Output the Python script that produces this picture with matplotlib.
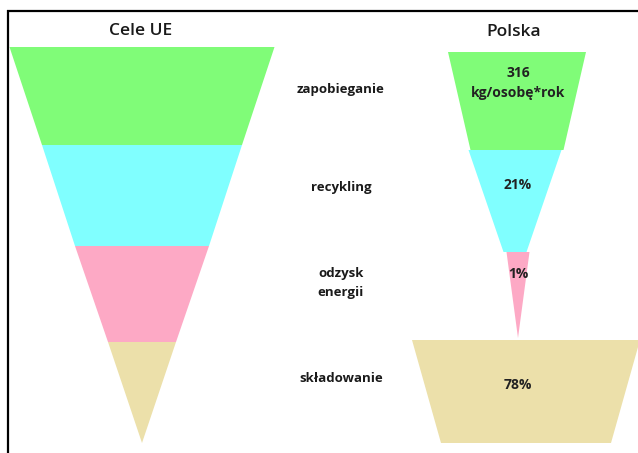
import numpy as np
import matplotlib.pyplot as plt

# categories (middle column) and the values shown in the Polish funnel
categories = ["zapobieganie", "recykling", "odzysk\nenergii", "składowanie"]
pl_labels = ["316\nkg/osobę*rok", "21%", "1%", "78%"]
colors = ["#80fc78", "#80ffff", "#fda9c5", "#ece0aa"]

# EU target funnel: widths at the band edges (pixels), band edge heights
eu_widths = [265, 200, 134, 68, 0]
eu_levels = [47, 145, 246, 342, 443]
eu_center = 142

# Poland funnel: top/bottom width of each band, band spans, band centres
pl_top_w = [138, 93, 23, 228]
pl_bot_w = [93, 23, 0, 170]
pl_spans = [(52, 150), (150, 252), (252, 338), (340, 443)]
pl_centers = [517, 515, 518, 526]

W, H = 638, 453

def trapezoid(ax, cx, y0, y1, w0, w1, color):
    xs = [cx - w0 / 2, cx + w0 / 2, cx + w1 / 2, cx - w1 / 2]
    ys = [y0, y0, y1, y1]
    ax.fill(xs, ys, color=color, linewidth=0)

def main():
    fig = plt.figure(figsize=(W / 100, H / 100), dpi=100)
    ax = fig.add_axes([0, 0, 1, 1])
    ax.set_xlim(0, W)
    ax.set_ylim(H, 0)
    ax.axis("off")

    font = "Open Sans"

    # left funnel (Cele UE)
    for i in range(len(categories)):
        trapezoid(ax, eu_center, eu_levels[i], eu_levels[i + 1],
                  eu_widths[i], eu_widths[i + 1], colors[i])

    # right funnel (Polska)
    for i in range(len(categories)):
        y0, y1 = pl_spans[i]
        trapezoid(ax, pl_centers[i], y0, y1, pl_top_w[i], pl_bot_w[i], colors[i])

    # headers
    ax.text(141, 31, "Cele UE", ha="center", va="center",
            fontsize=12.5, family=font, fontweight="semibold", color="#1a1a1a")
    ax.text(514, 32, "Polska", ha="center", va="center",
            fontsize=12.5, family=font, fontweight="semibold", color="#1a1a1a")

    # middle category labels and values
    label_y = [90, 187, 283, 379]
    value_y = [83, 185, 274, 385]
    for i in range(len(categories)):
        ax.text(341, label_y[i], categories[i], ha="center", va="center",
                fontsize=9.5, family=font, fontweight="bold", color="#1a1a1a",
                linespacing=1.65)
        ax.text(518, value_y[i], pl_labels[i], ha="center", va="center",
                fontsize=10, family=font, fontweight="bold", color="#222222",
                linespacing=1.55)

    # frame lines (top and left)
    ax.plot([7, W], [10.5, 10.5], color="black", linewidth=1.6, solid_capstyle="butt")
    ax.plot([7.5, 7.5], [10, H], color="black", linewidth=1.6, solid_capstyle="butt")

    fig.savefig("out.png", dpi=100)

if __name__ == '__main__':
    main()
